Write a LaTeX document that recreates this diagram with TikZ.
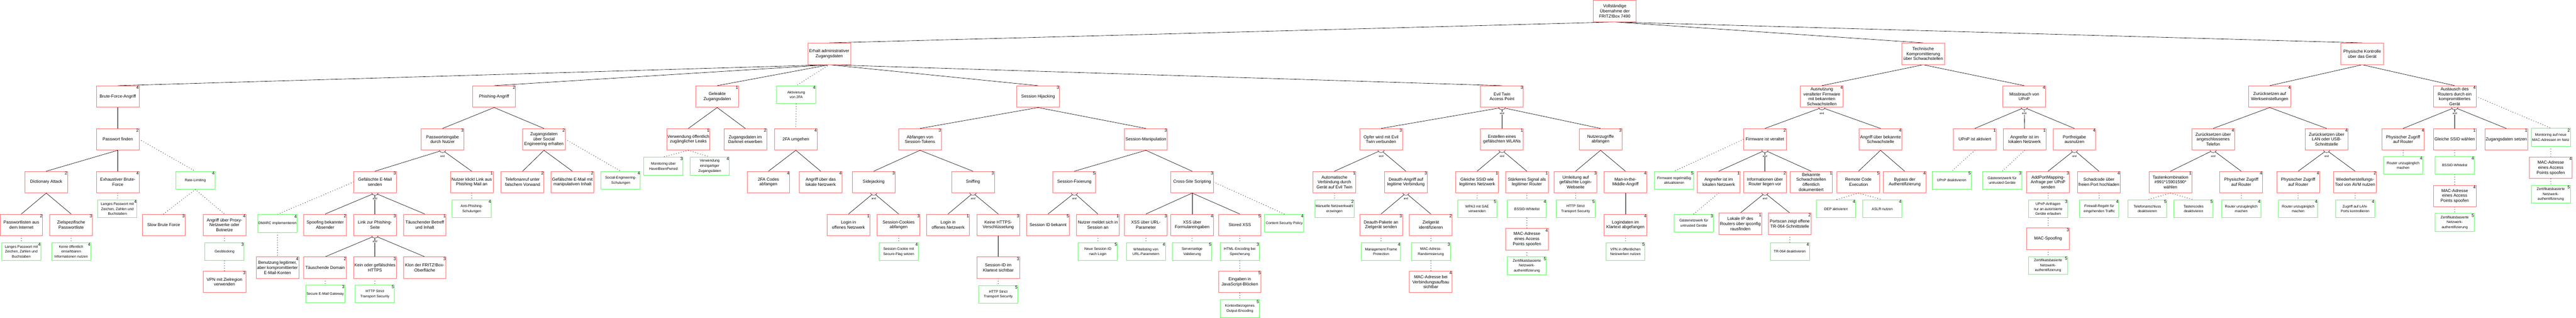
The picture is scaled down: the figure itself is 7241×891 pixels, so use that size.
\documentclass[tikz,border=0pt]{standalone}
\usepackage{fontspec}
\setmainfont{Liberation Sans}
\pgfdeclarelayer{edgelayer}
\pgfdeclarelayer{nodelayer}
\pgfsetlayers{edgelayer,nodelayer,main}
\definecolor{attackred}{RGB}{255,110,110}
\definecolor{defencegreen}{RGB}{100,250,100}
\tikzstyle{attack}=[rectangle,draw=attackred,fill=white,line width=1.4pt,minimum width=120pt,minimum height=60pt,inner sep=1pt,align=center,font=\fontsize{12}{14}\selectfont]
\tikzstyle{defence}=[rectangle,draw=defencegreen,fill=white,line width=1.4pt,minimum width=110pt,minimum height=50pt,inner sep=1pt,align=center,font=\fontsize{10}{14}\selectfont]
\tikzstyle{scorelabel}=[anchor=north east,inner sep=1.5pt,font=\fontsize{12}{12}\selectfont]
\tikzset{score/.style={label={[style=scorelabel]north east:#1}}}
\tikzstyle{refine}=[draw=black,line width=0.9pt]
\tikzstyle{countermeasure}=[draw=black,line width=1.8pt,dash pattern=on 0pt off 7pt,line cap=round]
\tikzstyle{andarc}=[draw=black,fill=white,line width=0.8pt]
\tikzstyle{andlabel}=[fill=white,inner sep=0.5pt,font=\fontsize{7.5}{8}\selectfont]

\begin{document}
\begin{tikzpicture}[x=1pt,y=-1pt]
	\useasboundingbox (0,0) rectangle (7241,891);
	\begin{pgfonlayer}{nodelayer}
		\node [style=attack] (0) at (4539, 31) {Vollständige\\Übernahme der\\FRITZ!Box 7490};
		\node [style=attack] (1) at (2331, 151) {Erhalt administrativer\\Zugangsdaten};
		\node [style=attack] (2) at (5406, 151) {Technische\\Kompromittierung\\über Schwachstellen};
		\node [style=attack] (3) at (6640, 151) {Physische Kontrolle\\über das Gerät};
		\node [style=attack, score=4] (4) at (331, 271) {Brute-Force-Angriff};
		\node [style=attack, score=2] (5) at (1389, 271) {Phishing-Angriff};
		\node [style=attack, score=1] (6) at (2016, 271) {Geleakte\\Zugangsdaten};
		\node [style=defence, score=4] (7) at (2238, 266) {Aktivierung\\von 2FA};
		\node [style=attack, score=3] (8) at (2918, 271) {Session Hijacking};
		\node [style=attack, score=3] (9) at (4222, 271) {Evil Twin\\Access Point};
		\node [style=attack, score=4] (10) at (5121, 271) {Ausnutzung\\veralteter Firmware\\mit bekannten\\Schwachstellen};
		\node [style=attack, score=4] (11) at (5690, 271) {Missbrauch von\\UPnP};
		\node [style=attack, score=4] (12) at (6380, 271) {Zurücksetzen auf\\Werkseinstellungen};
		\node [style=attack, score=4] (13) at (6900, 271) {Austausch des\\Routers durch ein\\kompromittiertes\\Gerät};
		\node [style=attack, score=2] (14) at (331, 391) {Passwort finden};
		\node [style=attack, score=2] (15) at (130, 511) {Dictionary Attack};
		\node [style=attack, score=4] (16) at (331, 511) {Exhaustiver Brute-\\Force};
		\node [style=defence, score=4] (17) at (549, 506) {Rate-Limiting};
		\node [style=attack, score=2] (18) at (60, 631) {Passwortlisten aus\\dem Internet};
		\node [style=attack, score=3] (19) at (200, 631) {Zielspezifische\\Passwortliste};
		\node [style=defence, score=4] (20) at (60, 706) {Langes Passwort mit\\Zeichen, Zahlen und\\Buchstaben};
		\node [style=defence, score=4] (21) at (200, 706) {Keine öffentlich\\einsehbaren\\Informationen nutzen};
		\node [style=defence, score=4] (22) at (330, 586) {Langes Passwort mit\\Zeichen, Zahlen und\\Buchstaben};
		\node [style=attack, score=3] (23) at (460, 631) {Slow Brute Force};
		\node [style=attack, score=4] (24) at (631, 631) {Angriff über Proxy-\\Netzwerke oder\\Botnetze};
		\node [style=defence, score=3] (25) at (631, 706) {Geoblocking};
		\node [style=attack, score=3] (26) at (631, 791) {VPN mit Zielregion\\verwenden};
		\node [style=attack, score=3] (27) at (1244, 391) {Passworteingabe\\durch Nutzer};
		\node [style=attack, score=2] (28) at (1529, 391) {Zugangsdaten\\über Social\\Engineering erhalten};
		\node [style=attack, score=3] (29) at (1054, 511) {Gefälschte E-Mail\\senden};
		\node [style=attack, score=1] (30) at (1326, 511) {Nutzer klickt Link aus\\Phishing Mail an};
		\node [style=defence, score=4] (31) at (1326, 586) {Anti-Phishing-\\Schulungen};
		\node [style=attack, score=2] (32) at (1469, 511) {Telefonanruf unter\\falschem Vorwand};
		\node [style=attack, score=2] (33) at (1609, 511) {Gefälschte E-Mail mit\\manipulativen Inhalt};
		\node [style=defence, score=4] (34) at (1745, 506) {Social-Engineering-\\Schulungen};
		\node [style=defence, score=4] (35) at (780, 627) {DMARC implementieren};
		\node [style=attack, score=4] (36) at (780, 751) {Benutzung legitimer,\\aber kompromittierter\\E-Mail-Konten};
		\node [style=attack, score=2] (37) at (914, 631) {Spoofing bekannter\\Absender};
		\node [style=attack, score=3] (38) at (1054, 631) {Link zur Phishing-\\Seite};
		\node [style=attack, score=1] (39) at (1194, 631) {Täuschender Betreff\\und Inhalt};
		\node [style=attack, score=2] (40) at (914, 751) {Täuschende Domain};
		\node [style=attack, score=3] (41) at (1054, 751) {Kein oder gefälschtes\\HTTPS};
		\node [style=attack, score=3] (42) at (1194, 751) {Klon der FRITZ!Box-\\Oberfläche};
		\node [style=defence, score=3] (43) at (914, 825) {Secure E-Mail Gateway};
		\node [style=defence, score=5] (44) at (1054, 825) {HTTP Strict\\Transport Security};
		\node [style=attack, score=1] (45) at (1935, 391) {Verwendung öffentlich\\zugänglicher Leaks};
		\node [style=attack, score=2] (46) at (2095, 391) {Zugangsdaten im\\Darknet erwerben};
		\node [style=defence, score=3] (47) at (1865, 466) {Monitoring über\\HaveIBeenPwned};
		\node [style=defence, score=4] (48) at (1995, 466) {Verwendung\\einzigartiger\\Zugangsdaten};
		\node [style=attack, score=4] (49) at (2237, 391) {2FA umgehen};
		\node [style=attack, score=4] (50) at (2160, 511) {2FA Codes\\abfangen};
		\node [style=attack, score=4] (51) at (2307, 511) {Angriff über das\\lokale Netzwerk};
		\node [style=attack, score=3] (52) at (2586, 391) {Abfangen von\\Session-Tokens};
		\node [style=attack, score=3] (53) at (3221, 391) {Session-Manipulation};
		\node [style=attack, score=3] (54) at (2456, 511) {Sidejacking};
		\node [style=attack, score=3] (55) at (2735, 511) {Sniffing};
		\node [style=attack, score=1] (56) at (2385, 631) {Login in\\offenes Netzwerk};
		\node [style=attack, score=3] (57) at (2526, 631) {Session-Cookies\\abfangen};
		\node [style=defence, score=4] (58) at (2526, 706) {Session-Cookie mit\\Secure-Flag setzen};
		\node [style=attack, score=1] (59) at (2665, 631) {Login in\\offenes Netzwerk};
		\node [style=attack, score=3] (60) at (2806, 631) {Keine HTTPS-\\Verschlüsselung};
		\node [style=attack, score=3] (61) at (2806, 751) {Session-ID im\\Klartext sichtbar};
		\node [style=defence, score=5] (62) at (2806, 826) {HTTP Strict\\Transport Security};
		\node [style=attack, score=5] (63) at (3020, 511) {Session-Fixierung};
		\node [style=attack, score=3] (64) at (3351, 511) {Cross-Site Scripting};
		\node [style=defence, score=4] (65) at (3610, 626) {Content Security Policy};
		\node [style=attack, score=5] (66) at (2946, 631) {Session ID bekannt};
		\node [style=attack, score=1] (67) at (3086, 631) {Nutzer meldet sich in\\Session an};
		\node [style=defence, score=5] (68) at (3086, 706) {Neue Session-ID\\nach Login};
		\node [style=attack, score=3] (69) at (3221, 631) {XSS über URL-\\Parameter};
		\node [style=attack, score=4] (70) at (3351, 631) {XSS über\\Formulareingaben};
		\node [style=attack, score=5] (71) at (3485, 631) {Stored XSS};
		\node [style=defence, score=4] (72) at (3221, 706) {Whitelisting von\\URL-Parametern};
		\node [style=defence, score=5] (73) at (3351, 706) {Serverseitige\\Validierung};
		\node [style=defence, score=3] (74) at (3485, 706) {HTML-Encoding bei\\Speicherung};
		\node [style=attack, score=5] (75) at (3485, 791) {Eingaben in\\JavaScript-Blöcken};
		\node [style=defence, score=5] (76) at (3485, 866) {Kontextbezogenes\\Output-Encoding};
		\node [style=attack, score=3] (77) at (3882, 391) {Opfer wird mit Evil\\Twin verbunden};
		\node [style=attack, score=1] (78) at (4222, 391) {Erstellen eines\\gefälschten WLANs};
		\node [style=attack, score=3] (79) at (4499, 391) {Nutzerzugriffe\\abfangen};
		\node [style=attack, score=1] (80) at (3751, 511) {Automatische\\Verbindung durch\\Gerät auf Evil Twin};
		\node [style=attack, score=3] (81) at (3952, 511) {Deauth-Angriff auf\\legitime Verbindung};
		\node [style=defence, score=2] (82) at (3751, 586) {Manuelle Netzwerkwahl\\erzwingen};
		\node [style=attack, score=3] (83) at (3882, 631) {Deauth-Pakete an\\Zielgerät senden};
		\node [style=attack, score=2] (84) at (4022, 631) {Zielgerät\\identifizieren};
		\node [style=defence, score=4] (85) at (3882, 706) {Management Frame\\Protection};
		\node [style=defence, score=3] (86) at (4022, 706) {MAC-Adress-\\Randomisierung};
		\node [style=attack, score=4] (87) at (4022, 791) {MAC-Adresse bei\\Verbindungsaufbau\\sichtbar};
		\node [style=attack, score=1] (88) at (4152, 511) {Gleiche SSID wie\\legitimes Netzwerk};
		\node [style=attack, score=1] (89) at (4292, 511) {Stärkeres Signal als\\legitimer Router};
		\node [style=defence, score=5] (90) at (4152, 586) {WPA3 mit SAE\\verwenden};
		\node [style=defence, score=4] (91) at (4292, 586) {BSSID-Whitelist};
		\node [style=attack, score=4] (92) at (4292, 671) {MAC-Adresse\\eines Access\\Points spoofen};
		\node [style=defence, score=5] (93) at (4292, 746) {Zertifikatsbasierte\\Netzwerk-\\authentifizierung};
		\node [style=attack, score=3] (94) at (4429, 511) {Umleitung auf\\gefälschte Login-\\Webseite};
		\node [style=attack, score=4] (95) at (4569, 511) {Man-in-the-\\Middle-Angriff};
		\node [style=defence, score=5] (96) at (4429, 586) {HTTP Strict\\Transport Security};
		\node [style=attack, score=4] (97) at (4569, 631) {Logindaten im\\Klartext abgefangen};
		\node [style=defence, score=5] (98) at (4569, 706) {VPN in öffentlichen\\Netzwerken nutzen};
		\node [style=attack, score=2] (99) at (4961, 391) {Firmware ist veraltet};
		\node [style=attack, score=4] (100) at (5286, 391) {Angriff über bekannte\\Schwachstelle};
		\node [style=defence, score=5] (101) at (4706, 506) {Firmware regelmäßig\\aktualisieren};
		\node [style=attack, score=1] (102) at (4831, 511) {Angreifer ist im\\lokalen Netzwerk};
		\node [style=attack, score=2] (103) at (4961, 511) {Informationen über\\Router liegen vor};
		\node [style=attack, score=1] (104) at (5091, 511) {Bekannte\\Schwachstellen\\öffentlich\\dokumentiert};
		\node [style=defence, score=3] (105) at (4761, 626) {Gästenetzwerk für\\untrusted Geräte};
		\node [style=attack, score=1] (106) at (4892, 628) {Lokale IP des\\Routers über ipconfig\\rausfinden};
		\node [style=attack, score=2] (107) at (5031, 628) {Portscan zeigt offene\\TR-064-Schnittstelle};
		\node [style=defence, score=4] (108) at (5031, 706) {TR-064 deaktivieren};
		\node [style=attack, score=5] (109) at (5224, 511) {Remote Code\\Execution};
		\node [style=attack, score=4] (110) at (5354, 511) {Bypass der\\Authentifizierung};
		\node [style=defence, score=4] (111) at (5161, 586) {DEP aktivieren};
		\node [style=defence, score=4] (112) at (5291, 586) {ASLR nutzen};
		\node [style=attack, score=1] (113) at (5551, 391) {UPnP ist aktiviert};
		\node [style=attack, score=1] (114) at (5691, 391) {Angreifer ist im\\lokalen Netzwerk};
		\node [style=attack, score=4] (115) at (5831, 391) {Portfreigabe\\ausnutzen};
		\node [style=defence, score=5] (116) at (5486, 506) {UPnP deaktivieren};
		\node [style=defence, score=3] (117) at (5628, 506) {Gästenetzwerk für\\untrusted Geräte};
		\node [style=attack, score=3] (118) at (5757, 511) {AddPortMapping-\\Anfrage per UPnP\\senden};
		\node [style=attack, score=4] (119) at (5900, 511) {Schadcode über\\freien Port hochladen};
		\node [style=defence, score=3] (120) at (5757, 586) {UPnP-Anfragen\\nur an autorisierte\\Geräte erlauben};
		\node [style=attack, score=3] (121) at (5757, 670) {MAC-Spoofing};
		\node [style=defence, score=5] (122) at (5757, 745) {Zertifikatsbasierte\\Netzwerk-\\authentifizierung};
		\node [style=defence, score=4] (123) at (5901, 586) {Firewall-Regeln für\\eingehenden Traffic};
		\node [style=attack, score=4] (124) at (6221, 391) {Zurücksetzen über\\angeschlossenes\\Telefon};
		\node [style=attack, score=4] (125) at (6540, 391) {Zurücksetzen über\\LAN oder USB-\\Schnittstelle};
		\node [style=attack, score=1] (126) at (6101, 511) {Tastenkombination\\\#991*15901590*\\wählen};
		\node [style=attack, score=4] (127) at (6300, 511) {Physischer Zugriff\\auf Router};
		\node [style=defence, score=5] (128) at (6036, 586) {Telefonanschluss\\deaktivieren};
		\node [style=defence, score=5] (129) at (6166, 586) {Tastencodes\\deaktivieren};
		\node [style=defence, score=4] (130) at (6300, 586) {Router unzugänglich\\machen};
		\node [style=attack, score=4] (131) at (6460, 511) {Physischer Zugriff\\auf Router};
		\node [style=attack, score=2] (132) at (6620, 511) {Wiederherstellungs-\\Tool von AVM nutzen};
		\node [style=defence, score=4] (133) at (6460, 586) {Router unzugänglich\\machen};
		\node [style=defence, score=4] (134) at (6620, 586) {Zugriff auf LAN-\\Ports kontrollieren};
		\node [style=attack, score=4] (135) at (6755, 391) {Physischer Zugriff\\auf Router};
		\node [style=attack, score=1] (136) at (6900, 391) {Gleiche SSID wählen};
		\node [style=attack, score=1] (137) at (7045, 391) {Zugangsdaten setzen};
		\node [style=defence, score=2] (138) at (7170, 385) {Monitoring auf neue\\MAC-Adressen im Netz};
		\node [style=defence, score=4] (139) at (6755, 464) {Router unzugänglich\\machen};
		\node [style=defence, score=4] (140) at (6900, 464) {BSSID-Whitelist};
		\node [style=attack, score=4] (141) at (6900, 550) {MAC-Adresse\\eines Access\\Points spoofen};
		\node [style=defence, score=5] (142) at (6900, 624) {Zertifikatsbasierte\\Netzwerk-\\authentifizierung};
		\node [style=attack, score=4] (143) at (7170, 471) {MAC-Adresse\\eines Access\\Points spoofen};
		\node [style=defence, score=5] (144) at (7170, 545) {Zertifikatsbasierte\\Netzwerk-\\authentifizierung};
	\end{pgfonlayer}
	\begin{pgfonlayer}{edgelayer}
		\draw [style=refine] (0.south) to (1.north);
		\draw [style=refine] (0.south) to (2.north);
		\draw [style=refine] (0.south) to (3.north);
		\draw [style=refine] (1.south) to (4.north);
		\draw [style=refine] (1.south) to (5.north);
		\draw [style=refine] (1.south) to (6.north);
		\draw [style=countermeasure] (1.south) to (7.north);
		\draw [style=refine] (1.south) to (8.north);
		\draw [style=refine] (1.south) to (9.north);
		\draw [style=refine] (4.south) to (14.north);
		\draw [style=refine] (14.south) to (15.north);
		\draw [style=refine] (14.south) to (16.north);
		\draw [style=countermeasure] (14.east) to (17.north);
		\draw [style=refine] (15.south) to (18.north);
		\draw [style=refine] (15.south) to (19.north);
		\draw [style=countermeasure] (18.south) to (20.north);
		\draw [style=countermeasure] (19.south) to (21.north);
		\draw [style=countermeasure] (16.south) to (22.north);
		\draw [style=countermeasure] (17.south) to (23.north);
		\draw [style=countermeasure] (17.south) to (24.north);
		\draw [style=countermeasure] (24.south) to (25.north);
		\draw [style=countermeasure] (25.south) to (26.north);
		\draw [style=refine] (5.south) to (27.north);
		\draw [style=refine] (5.south) to (28.north);
		\draw [style=refine] (27.south) to (29.north);
		\draw [style=refine] (27.south) to (30.north);
		\draw [style=countermeasure] (30.south) to (31.north);
		\draw [style=refine] (28.south) to (32.north);
		\draw [style=refine] (28.south) to (33.north);
		\draw [style=countermeasure] (28.east) to (34.north);
		\draw [style=countermeasure] (29.west) to (35.north);
		\draw [style=countermeasure] (35.south) to (36.north);
		\draw [style=refine] (29.south) to (37.north);
		\draw [style=refine] (29.south) to (38.north);
		\draw [style=refine] (29.south) to (39.north);
		\draw [style=refine] (38.south) to (40.north);
		\draw [style=refine] (38.south) to (41.north);
		\draw [style=refine] (38.south) to (42.north);
		\draw [style=countermeasure] (40.south) to (43.north);
		\draw [style=countermeasure] (41.south) to (44.north);
		\draw [style=refine] (6.south) to (45.north);
		\draw [style=refine] (6.south) to (46.north);
		\draw [style=countermeasure] (45.south) to (47.north);
		\draw [style=countermeasure] (45.south) to (48.north);
		\draw [style=countermeasure] (7.south) to (49.north);
		\draw [style=refine] (49.south) to (50.north);
		\draw [style=refine] (49.south) to (51.north);
		\draw [style=refine] (8.south) to (52.north);
		\draw [style=refine] (8.south) to (53.north);
		\draw [style=refine] (52.south) to (54.north);
		\draw [style=refine] (52.south) to (55.north);
		\draw [style=refine] (54.south) to (56.north);
		\draw [style=refine] (54.south) to (57.north);
		\draw [style=countermeasure] (57.south) to (58.north);
		\draw [style=refine] (55.south) to (59.north);
		\draw [style=refine] (55.south) to (60.north);
		\draw [style=refine] (60.south) to (61.north);
		\draw [style=countermeasure] (61.south) to (62.north);
		\draw [style=refine] (53.south) to (63.north);
		\draw [style=refine] (53.south) to (64.north);
		\draw [style=countermeasure] (64.east) to (65.north);
		\draw [style=refine] (63.south) to (66.north);
		\draw [style=refine] (63.south) to (67.north);
		\draw [style=countermeasure] (67.south) to (68.north);
		\draw [style=refine] (64.south) to (69.north);
		\draw [style=refine] (64.south) to (70.north);
		\draw [style=refine] (64.south) to (71.north);
		\draw [style=countermeasure] (69.south) to (72.north);
		\draw [style=countermeasure] (70.south) to (73.north);
		\draw [style=countermeasure] (71.south) to (74.north);
		\draw [style=countermeasure] (74.south) to (75.north);
		\draw [style=countermeasure] (75.south) to (76.north);
		\draw [style=refine] (9.south) to (77.north);
		\draw [style=refine] (9.south) to (78.north);
		\draw [style=refine] (9.south) to (79.north);
		\draw [style=refine] (77.south) to (80.north);
		\draw [style=refine] (77.south) to (81.north);
		\draw [style=countermeasure] (80.south) to (82.north);
		\draw [style=refine] (81.south) to (83.north);
		\draw [style=refine] (81.south) to (84.north);
		\draw [style=countermeasure] (83.south) to (85.north);
		\draw [style=countermeasure] (84.south) to (86.north);
		\draw [style=countermeasure] (86.south) to (87.north);
		\draw [style=refine] (78.south) to (88.north);
		\draw [style=refine] (78.south) to (89.north);
		\draw [style=countermeasure] (88.south) to (90.north);
		\draw [style=countermeasure] (89.south) to (91.north);
		\draw [style=countermeasure] (91.south) to (92.north);
		\draw [style=countermeasure] (92.south) to (93.north);
		\draw [style=refine] (79.south) to (94.north);
		\draw [style=refine] (79.south) to (95.north);
		\draw [style=countermeasure] (94.south) to (96.north);
		\draw [style=refine] (95.south) to (97.north);
		\draw [style=countermeasure] (97.south) to (98.north);
		\draw [style=refine] (2.south) to (10.north);
		\draw [style=refine] (2.south) to (11.north);
		\draw [style=refine] (10.south) to (99.north);
		\draw [style=refine] (10.south) to (100.north);
		\draw [style=countermeasure] (99.west) to (101.north);
		\draw [style=refine] (99.south) to (102.north);
		\draw [style=refine] (99.south) to (103.north);
		\draw [style=refine] (99.south) to (104.north);
		\draw [style=countermeasure] (102.south) to (105.north);
		\draw [style=refine] (103.south) to (106.north);
		\draw [style=refine] (103.south) to (107.north);
		\draw [style=countermeasure] (107.south) to (108.north);
		\draw [style=refine] (100.south) to (109.north);
		\draw [style=refine] (100.south) to (110.north);
		\draw [style=countermeasure] (109.south) to (111.north);
		\draw [style=countermeasure] (109.south) to (112.north);
		\draw [style=refine] (11.south) to (113.north);
		\draw [style=refine] (11.south) to (114.north);
		\draw [style=refine] (11.south) to (115.north);
		\draw [style=countermeasure] (113.south) to (116.north);
		\draw [style=countermeasure] (114.south) to (117.north);
		\draw [style=refine] (115.south) to (118.north);
		\draw [style=refine] (115.south) to (119.north);
		\draw [style=countermeasure] (118.south) to (120.north);
		\draw [style=countermeasure] (120.south) to (121.north);
		\draw [style=countermeasure] (121.south) to (122.north);
		\draw [style=countermeasure] (119.south) to (123.north);
		\draw [style=refine] (3.south) to (12.north);
		\draw [style=refine] (3.south) to (13.north);
		\draw [style=refine] (12.south) to (124.north);
		\draw [style=refine] (12.south) to (125.north);
		\draw [style=refine] (124.south) to (126.north);
		\draw [style=refine] (124.south) to (127.north);
		\draw [style=countermeasure] (126.south) to (128.north);
		\draw [style=countermeasure] (126.south) to (129.north);
		\draw [style=countermeasure] (127.south) to (130.north);
		\draw [style=refine] (125.south) to (131.north);
		\draw [style=refine] (125.south) to (132.north);
		\draw [style=countermeasure] (131.south) to (133.north);
		\draw [style=countermeasure] (132.south) to (134.north);
		\draw [style=refine] (13.south) to (135.north);
		\draw [style=refine] (13.south) to (136.north);
		\draw [style=refine] (13.south) to (137.north);
		\draw [style=countermeasure] (13.east) to (138.north);
		\draw [style=countermeasure] (135.south) to (139.north);
		\draw [style=countermeasure] (136.south) to (140.north);
		\draw [style=countermeasure] (140.south) to (141.north);
		\draw [style=countermeasure] (141.south) to (142.north);
		\draw [style=countermeasure] (138.south) to (143.north);
		\draw [style=countermeasure] (143.south) to (144.north);
	\end{pgfonlayer}
	% and-gates
	\draw [style=andarc] ([xshift=-9pt]9.south) arc [start angle=180, end angle=360, x radius=9pt, y radius=6pt];
	\node [style=andlabel] (9a) at ([yshift=-16pt]9.south) {and};
	\draw [style=andarc] ([xshift=-9pt]10.south) arc [start angle=180, end angle=360, x radius=9pt, y radius=6pt];
	\node [style=andlabel] (10a) at ([yshift=-16pt]10.south) {and};
	\draw [style=andarc] ([xshift=-9pt]11.south) arc [start angle=180, end angle=360, x radius=9pt, y radius=6pt];
	\node [style=andlabel] (11a) at ([yshift=-16pt]11.south) {and};
	\draw [style=andarc] ([xshift=-9pt]13.south) arc [start angle=180, end angle=360, x radius=9pt, y radius=6pt];
	\node [style=andlabel] (13a) at ([yshift=-16pt]13.south) {and};
	\draw [style=andarc] ([xshift=-9pt]27.south) arc [start angle=180, end angle=360, x radius=9pt, y radius=6pt];
	\node [style=andlabel] (27a) at ([yshift=-16pt]27.south) {and};
	\draw [style=andarc] ([xshift=-9pt]29.south) arc [start angle=180, end angle=360, x radius=9pt, y radius=6pt];
	\node [style=andlabel] (29a) at ([yshift=-16pt]29.south) {and};
	\draw [style=andarc] ([xshift=-9pt]38.south) arc [start angle=180, end angle=360, x radius=9pt, y radius=6pt];
	\node [style=andlabel] (38a) at ([yshift=-16pt]38.south) {and};
	\draw [style=andarc] ([xshift=-9pt]54.south) arc [start angle=180, end angle=360, x radius=9pt, y radius=6pt];
	\node [style=andlabel] (54a) at ([yshift=-16pt]54.south) {and};
	\draw [style=andarc] ([xshift=-9pt]55.south) arc [start angle=180, end angle=360, x radius=9pt, y radius=6pt];
	\node [style=andlabel] (55a) at ([yshift=-16pt]55.south) {and};
	\draw [style=andarc] ([xshift=-9pt]63.south) arc [start angle=180, end angle=360, x radius=9pt, y radius=6pt];
	\node [style=andlabel] (63a) at ([yshift=-16pt]63.south) {and};
	\draw [style=andarc] ([xshift=-9pt]77.south) arc [start angle=180, end angle=360, x radius=9pt, y radius=6pt];
	\node [style=andlabel] (77a) at ([yshift=-16pt]77.south) {and};
	\draw [style=andarc] ([xshift=-9pt]78.south) arc [start angle=180, end angle=360, x radius=9pt, y radius=6pt];
	\node [style=andlabel] (78a) at ([yshift=-16pt]78.south) {and};
	\draw [style=andarc] ([xshift=-9pt]81.south) arc [start angle=180, end angle=360, x radius=9pt, y radius=6pt];
	\node [style=andlabel] (81a) at ([yshift=-16pt]81.south) {and};
	\draw [style=andarc] ([xshift=-9pt]99.south) arc [start angle=180, end angle=360, x radius=9pt, y radius=6pt];
	\node [style=andlabel] (99a) at ([yshift=-16pt]99.south) {and};
	\draw [style=andarc] ([xshift=-9pt]103.south) arc [start angle=180, end angle=360, x radius=9pt, y radius=6pt];
	\node [style=andlabel] (103a) at ([yshift=-16pt]103.south) {and};
	\draw [style=andarc] ([xshift=-9pt]115.south) arc [start angle=180, end angle=360, x radius=9pt, y radius=6pt];
	\node [style=andlabel] (115a) at ([yshift=-16pt]115.south) {and};
	\draw [style=andarc] ([xshift=-9pt]124.south) arc [start angle=180, end angle=360, x radius=9pt, y radius=6pt];
	\node [style=andlabel] (124a) at ([yshift=-16pt]124.south) {and};
	\draw [style=andarc] ([xshift=-9pt]125.south) arc [start angle=180, end angle=360, x radius=9pt, y radius=6pt];
	\node [style=andlabel] (125a) at ([yshift=-16pt]125.south) {and};
\end{tikzpicture}
\end{document}
